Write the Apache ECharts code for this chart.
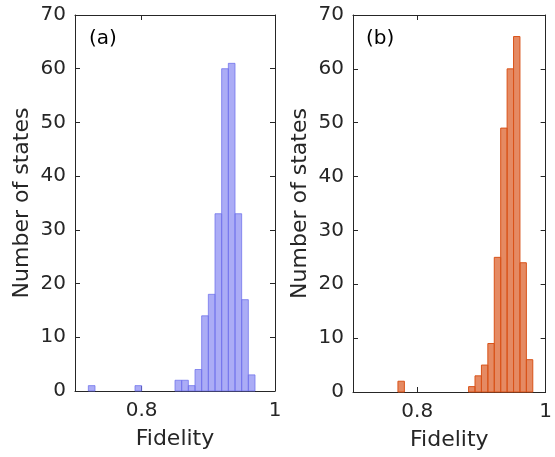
<!DOCTYPE html>
<html>
<head>
<meta charset="utf-8">
<script src="https://cdn.jsdelivr.net/npm/echarts@6/dist/echarts.min.js"></script>
<style>html,body{margin:0;padding:0;background:#fff;}#c{width:555px;height:457px;}</style>
</head>
<body>
<div id="c"></div>
<script>
// Histogram data (bin start fidelity, bin width 0.01)
const binWidth = 0.01;
const binsA = [0.72, 0.79, 0.85, 0.86, 0.87, 0.88, 0.89, 0.90, 0.91, 0.92, 0.93, 0.94, 0.95, 0.96];
const countsA = [1, 1, 2, 2, 1, 4, 14, 18, 33, 60, 61, 33, 17, 3];
const binsB = [0.77, 0.88, 0.89, 0.90, 0.91, 0.92, 0.93, 0.94, 0.95, 0.96, 0.97];
const countsB = [2, 1, 3, 5, 9, 25, 49, 60, 66, 24, 6];
const xTickValues = [0.8, 1];
const yTicks = [0, 10, 20, 30, 40, 50, 60, 70];
const panelLabels = ['(a)', '(b)'];
const xName = 'Fidelity';
const yName = 'Number of states';

const font = 'DejaVu Sans';
const axisColor = '#262626';

function renderBin(params, api) {
  const x0 = api.value(0);
  const h = api.value(1);
  const p0 = api.coord([x0, 0]);
  const p1 = api.coord([x0 + binWidth, h]);
  return {
    type: 'rect',
    shape: { x: p0[0], y: p1[1], width: p1[0] - p0[0], height: p0[1] - p1[1] },
    style: api.style()
  };
}

const grids = [
  { left: 75, top: 15, width: 200, height: 376 },
  { left: 353, top: 15, width: 199, height: 377 }
];

function xAxes(gi) {
  return [{
    type: 'value', gridIndex: gi, min: 0.7, max: 1, position: 'bottom',
    name: xName, nameLocation: 'middle', nameGap: 37,
    nameTextStyle: { fontFamily: font, fontSize: 22, color: axisColor },
    axisLine: { show: true, onZero: false, lineStyle: { color: axisColor, width: 1 } },
    axisTick: { show: true, inside: true, length: 5, customValues: xTickValues, lineStyle: { color: axisColor } },
    axisLabel: { customValues: xTickValues, margin: 10, fontFamily: font, fontSize: 20, color: axisColor,
      formatter: v => (Math.abs(v - 1) < 1e-9 ? '1' : String(v)) },
    splitLine: { show: false }
  }, {
    type: 'value', gridIndex: gi, min: 0.7, max: 1, position: 'top',
    axisLine: { show: true, onZero: false, lineStyle: { color: axisColor, width: 1 } },
    axisTick: { show: true, inside: true, length: 5, customValues: xTickValues, lineStyle: { color: axisColor } },
    axisLabel: { show: false },
    splitLine: { show: false }
  }];
}
function yAxes(gi) {
  return [{
    type: 'value', gridIndex: gi, min: 0, max: 70, interval: 10, position: 'left',
    name: yName, nameLocation: 'middle', nameGap: 42, nameRotate: 90,
    nameTextStyle: { fontFamily: font, fontSize: 22, color: axisColor },
    axisLine: { show: true, onZero: false, lineStyle: { color: axisColor, width: 1 } },
    axisTick: { show: true, inside: true, length: 5, lineStyle: { color: axisColor } },
    axisLabel: { margin: 9, fontFamily: font, fontSize: 20, color: axisColor,
      customValues: yTicks },
    splitLine: { show: false }
  }, {
    type: 'value', gridIndex: gi, min: 0, max: 70, interval: 10, position: 'right',
    axisLine: { show: true, onZero: false, lineStyle: { color: axisColor, width: 1 } },
    axisTick: { show: true, inside: true, length: 5, lineStyle: { color: axisColor } },
    axisLabel: { show: false },
    splitLine: { show: false }
  }];
}

const option = {
  backgroundColor: '#fff',
  animation: false,
  title: [
    { text: panelLabels[0], left: 84, top: 24, textStyle: { fontFamily: font, fontSize: 20, fontWeight: 'normal', color: '#000' } },
    { text: panelLabels[1], left: 361, top: 24, textStyle: { fontFamily: font, fontSize: 20, fontWeight: 'normal', color: '#000' } }
  ],
  grid: grids,
  xAxis: [...xAxes(0), ...xAxes(1)],
  yAxis: [...yAxes(0), ...yAxes(1)],
  series: [
    {
      type: 'custom', xAxisIndex: 0, yAxisIndex: 0,
      renderItem: renderBin,
      itemStyle: { color: 'rgba(110,112,240,0.58)', borderColor: 'rgba(110,112,235,0.75)', borderWidth: 1 },
      data: binsA.map((b, i) => [b, countsA[i]])
    },
    {
      type: 'custom', xAxisIndex: 2, yAxisIndex: 2,
      renderItem: renderBin,
      itemStyle: { color: 'rgba(217,83,25,0.68)', borderColor: '#d95319', borderWidth: 1 },
      data: binsB.map((b, i) => [b, countsB[i]])
    }
  ]
};
echarts.init(document.getElementById('c'), null, { renderer: 'canvas' }).setOption(option);
</script>
</body>
</html>
